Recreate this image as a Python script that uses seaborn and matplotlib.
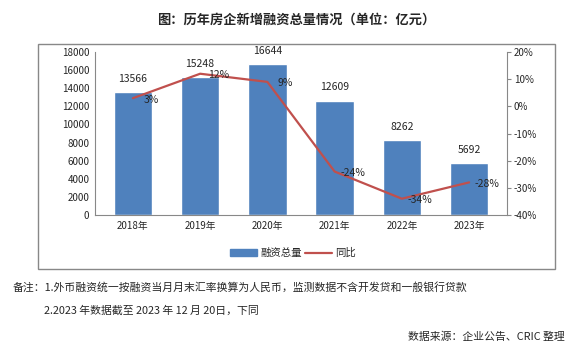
import matplotlib
matplotlib.use('Agg')
import matplotlib.pyplot as plt
import matplotlib.patches as mpatches
from matplotlib.lines import Line2D
import pandas as pd
import seaborn as sns

# Data
years = ['2018年', '2019年', '2020年', '2021年', '2022年', '2023年']
totals = [13566, 15248, 16644, 12609, 8262, 5692]
yoy = [3, 12, 9, -24, -34, -28]
yoy_labels = ['3%', '12%', '9%', '-24%', '-34%', '-28%']

bar_color = '#4F81BD'
line_color = '#C0504D'

sns.set_style('white')
plt.rcParams['font.family'] = ['Noto Sans CJK SC', 'DejaVu Sans']
plt.rcParams['axes.unicode_minus'] = False

df = pd.DataFrame({'year': years, 'total': totals, 'yoy': yoy})

fig = plt.figure(figsize=(5.83, 3.51), dpi=100)
ax = fig.add_axes([95 / 583, 1 - 215 / 351, 412 / 583, 163 / 351])

sns.barplot(data=df, x='year', y='total', color=bar_color, saturation=1,
            width=0.57, ax=ax)
ax.set_ylim(0, 18000)
ax.set_yticks(range(0, 18001, 2000))
ax.set_xlabel('')
ax.set_ylabel('')
ax.tick_params(axis='both', labelsize=7, length=0, pad=4)
for s in ['top', 'right']:
    ax.spines[s].set_visible(False)
for s in ['left', 'bottom']:
    ax.spines[s].set_color('#888888')
    ax.spines[s].set_linewidth(0.8)

# bar value labels
for i, v in enumerate(totals):
    ax.annotate(str(v), (i, v), xytext=(0, 6), textcoords='offset points',
                ha='center', va='bottom', fontsize=7.5)

# line on secondary axis
ax2 = ax.twinx()
sns.lineplot(x=list(range(len(years))), y=yoy, color=line_color, linewidth=1.6,
             ax=ax2)
ax2.set_ylim(-40, 20)
ax2.set_yticks(range(-40, 21, 10))
ax2.set_yticklabels([f'{t}%' for t in range(-40, 21, 10)])
ax2.tick_params(axis='y', labelsize=7, length=3, color='#888888', pad=2)
for s in ['top', 'left', 'bottom']:
    ax2.spines[s].set_visible(False)
ax2.spines['right'].set_color('#888888')
ax2.spines['right'].set_linewidth(0.8)
ax2.set_xlim(ax.get_xlim())

for i, (v, lab) in enumerate(zip(yoy, yoy_labels)):
    ax2.annotate(lab, (i, v), xytext=(13, -1), textcoords='offset points',
                 ha='center', va='center', fontsize=7.5)

# legend
handles = [mpatches.Patch(color=bar_color, label='融资总量'),
           Line2D([0], [0], color=line_color, lw=1.6, label='同比')]
fig.legend(handles=handles, loc='center', bbox_to_anchor=(293 / 583, 1 - 253 / 351),
           ncol=2, frameon=False, fontsize=7.5, handlelength=2.6, handleheight=0.6,
           columnspacing=0.3, handletextpad=0.3)

# outer border
fig.add_artist(mpatches.Rectangle((38 / 583, 1 - 269 / 351), 517 / 583, 225 / 351,
                                  transform=fig.transFigure, fill=False,
                                  edgecolor='#888888', linewidth=1))

# title and notes
fig.text(296 / 583, 1 - 20 / 351, '图：历年房企新增融资总量情况（单位：亿元）',
         ha='center', va='center', fontsize=9.5, fontweight='bold')
fig.text(13 / 583, 1 - 287 / 351,
         '备注：1.外币融资统一按融资当月月末汇率换算为人民币，监测数据不含开发贷和一般银行贷款',
         ha='left', va='center', fontsize=7.8)
fig.text(44 / 583, 1 - 311 / 351, '2.2023 年数据截至 2023 年 12 月 20日，下同',
         ha='left', va='center', fontsize=7.8)
fig.text(565 / 583, 1 - 337 / 351, '数据来源：企业公告、CRIC 整理',
         ha='right', va='center', fontsize=7.8)

fig.savefig('out.png', dpi=100)
